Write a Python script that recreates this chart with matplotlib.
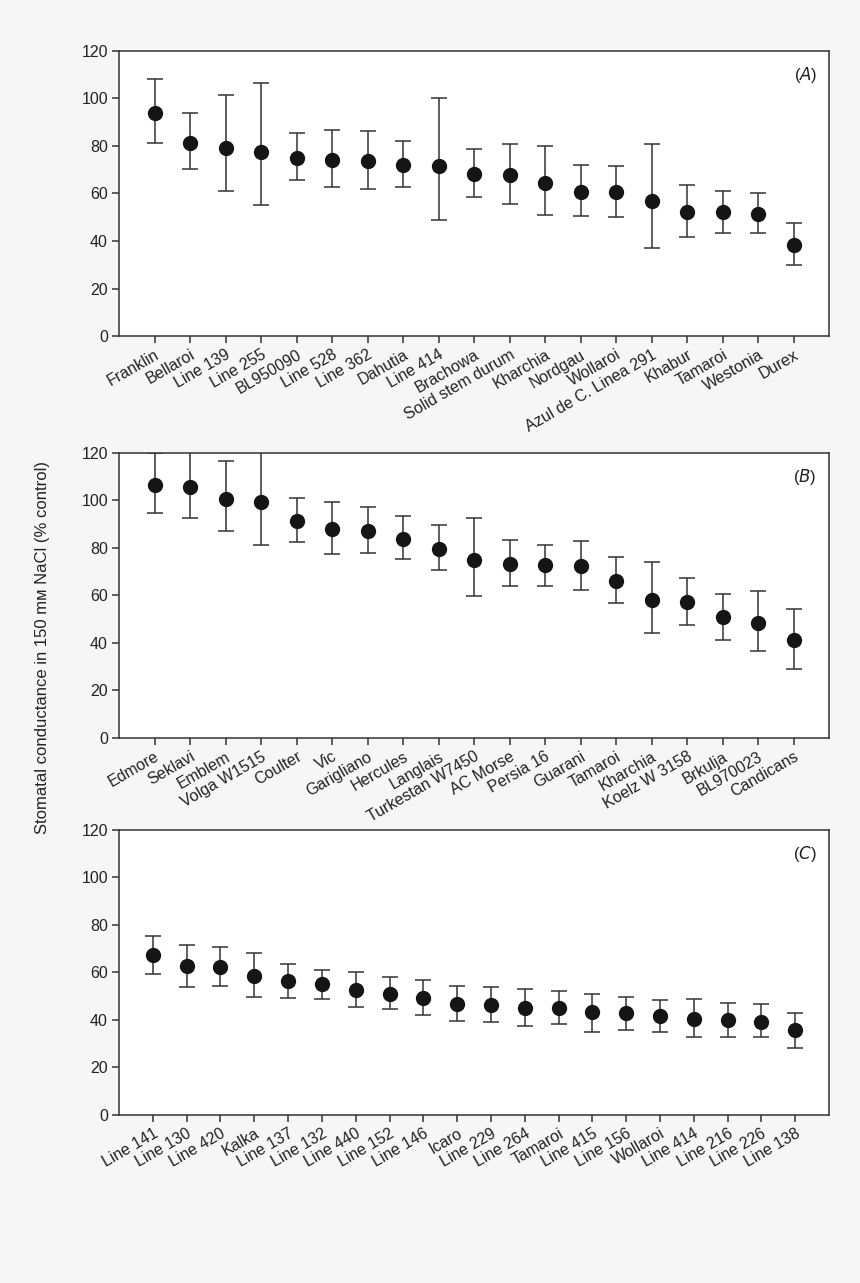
import matplotlib as mpl
mpl.use('Agg')

import matplotlib.pyplot as plt
import numpy as np

plt.rcParams['font.family'] = ['Liberation Sans', 'DejaVu Sans']

# panel A
names_a = ["Franklin", "Bellaroi", "Line 139", "Line 255", "BL950090", "Line 528",
           "Line 362", "Dahutia", "Line 414", "Brachowa", "Solid stem durum",
           "Kharchia", "Nordgau", "Wollaroi", "Azul de C. Linea 291", "Khabur",
           "Tamaroi", "Westonia", "Durex"]
mean_a = [93.9, 81.3, 79.3, 77.5, 75.1, 74.3, 73.6, 72.0, 71.5, 68.4, 67.7,
          64.5, 60.7, 60.6, 56.9, 52.1, 52.0, 51.4, 38.4]
hi_a = [108.2, 93.9, 101.6, 106.3, 85.5, 86.9, 86.3, 82.0, 100.2, 78.9, 80.9,
        79.8, 71.9, 71.6, 80.9, 63.4, 61.0, 60.0, 47.5]
lo_a = [81.3, 70.1, 61.0, 55.2, 65.5, 62.7, 61.9, 62.8, 48.8, 58.7, 55.6,
        51.0, 50.5, 50.3, 36.9, 41.8, 43.3, 43.2, 29.9]

# panel B
names_b = ["Edmore", "Seklavi", "Emblem", "Volga W1515", "Coulter", "Vic",
           "Garigliano", "Hercules", "Langlais", "Turkestan W7450", "AC Morse",
           "Persia 16", "Guarani", "Tamaroi", "Kharchia", "Koelz W 3158",
           "Brkulja", "BL970023", "Candicans"]
mean_b = [106.3, 105.6, 100.7, 99.2, 91.4, 87.9, 87.3, 83.8, 79.7, 74.8, 73.4,
          72.7, 72.2, 66.1, 58.1, 57.1, 50.8, 48.6, 41.2]
hi_b = [119.8, 122.0, 116.7, 122.0, 101.0, 99.3, 97.2, 93.4, 89.7, 92.4, 83.3,
        81.4, 83.0, 76.1, 74.0, 67.3, 60.5, 61.7, 54.3]
lo_b = [94.5, 92.4, 87.0, 81.4, 82.6, 77.4, 77.8, 75.2, 70.8, 59.6, 64.1,
        64.1, 62.3, 56.8, 44.0, 47.7, 41.4, 36.7, 29.1]

# panel C
names_c = ["Line 141", "Line 130", "Line 420", "Kalka", "Line 137", "Line 132",
           "Line 440", "Line 152", "Line 146", "Icaro", "Line 229", "Line 264",
           "Tamaroi", "Line 415", "Line 156", "Wollaroi", "Line 414", "Line 216",
           "Line 226", "Line 138"]
mean_c = [67.0, 62.4, 62.1, 58.5, 56.2, 54.8, 52.6, 51.0, 48.9, 46.5, 46.1,
          45.1, 44.9, 43.2, 42.7, 41.5, 40.3, 39.9, 39.2, 35.6]
hi_c = [75.0, 71.5, 70.4, 68.2, 63.5, 61.1, 60.2, 57.8, 56.5, 54.1, 53.8,
        53.0, 52.0, 51.0, 49.7, 48.4, 48.6, 47.1, 46.4, 43.0]
lo_c = [59.4, 53.6, 54.1, 49.5, 48.9, 48.5, 45.3, 44.4, 42.0, 39.4, 38.8,
        37.3, 38.2, 35.0, 35.8, 34.7, 32.5, 32.9, 32.6, 28.0]

panels = [
    ("A", names_a, mean_a, hi_a, lo_a, 0.7381),
    ("B", names_b, mean_b, hi_b, lo_b, 0.4248),
    ("C", names_c, mean_c, hi_c, lo_c, 0.1312),
]

fig = plt.figure(figsize=(8.6, 12.83), dpi=100, facecolor='#f6f6f6')
dark = '#333333'

for letter, names, m, hi, lo, bottom in panels:
    ax = fig.add_axes([0.1384, bottom, 0.8256, 0.2222])
    ax.set_facecolor('white')
    x = np.arange(len(names))
    m = np.array(m)
    yerr = [m - np.array(lo), np.array(hi) - m]
    ax.errorbar(x, m, yerr=yerr, fmt='o', color='#151515', ms=10,
                ecolor=dark, elinewidth=1.1, capsize=5.5, capthick=1.1)
    ax.set_xlim(-1, len(names))
    ax.set_ylim(0, 120)
    ax.set_yticks(range(0, 121, 20))
    ax.set_xticks(x)
    ax.set_xticklabels(names, rotation=30, ha='right', rotation_mode='anchor')
    ax.tick_params(direction='out', length=5, width=1.1, color=dark,
                   labelsize=11.5, labelcolor='#222222', pad=3)
    for s in ax.spines.values():
        s.set_color(dark)
        s.set_linewidth(1.1)
    ax.text(0.983, 0.915, '(' + r'$\mathit{' + letter + '}$' + ')',
            transform=ax.transAxes, ha='right', va='center', fontsize=12,
            color='#222222')

fig.text(0.049, 0.495, 'Stomatal conductance in 150 m\u1d0d NaCl (% control)',
         rotation=90, ha='center', va='center', fontsize=12, color='#222222')

plt.savefig('out.png', dpi=100, facecolor=fig.get_facecolor())
